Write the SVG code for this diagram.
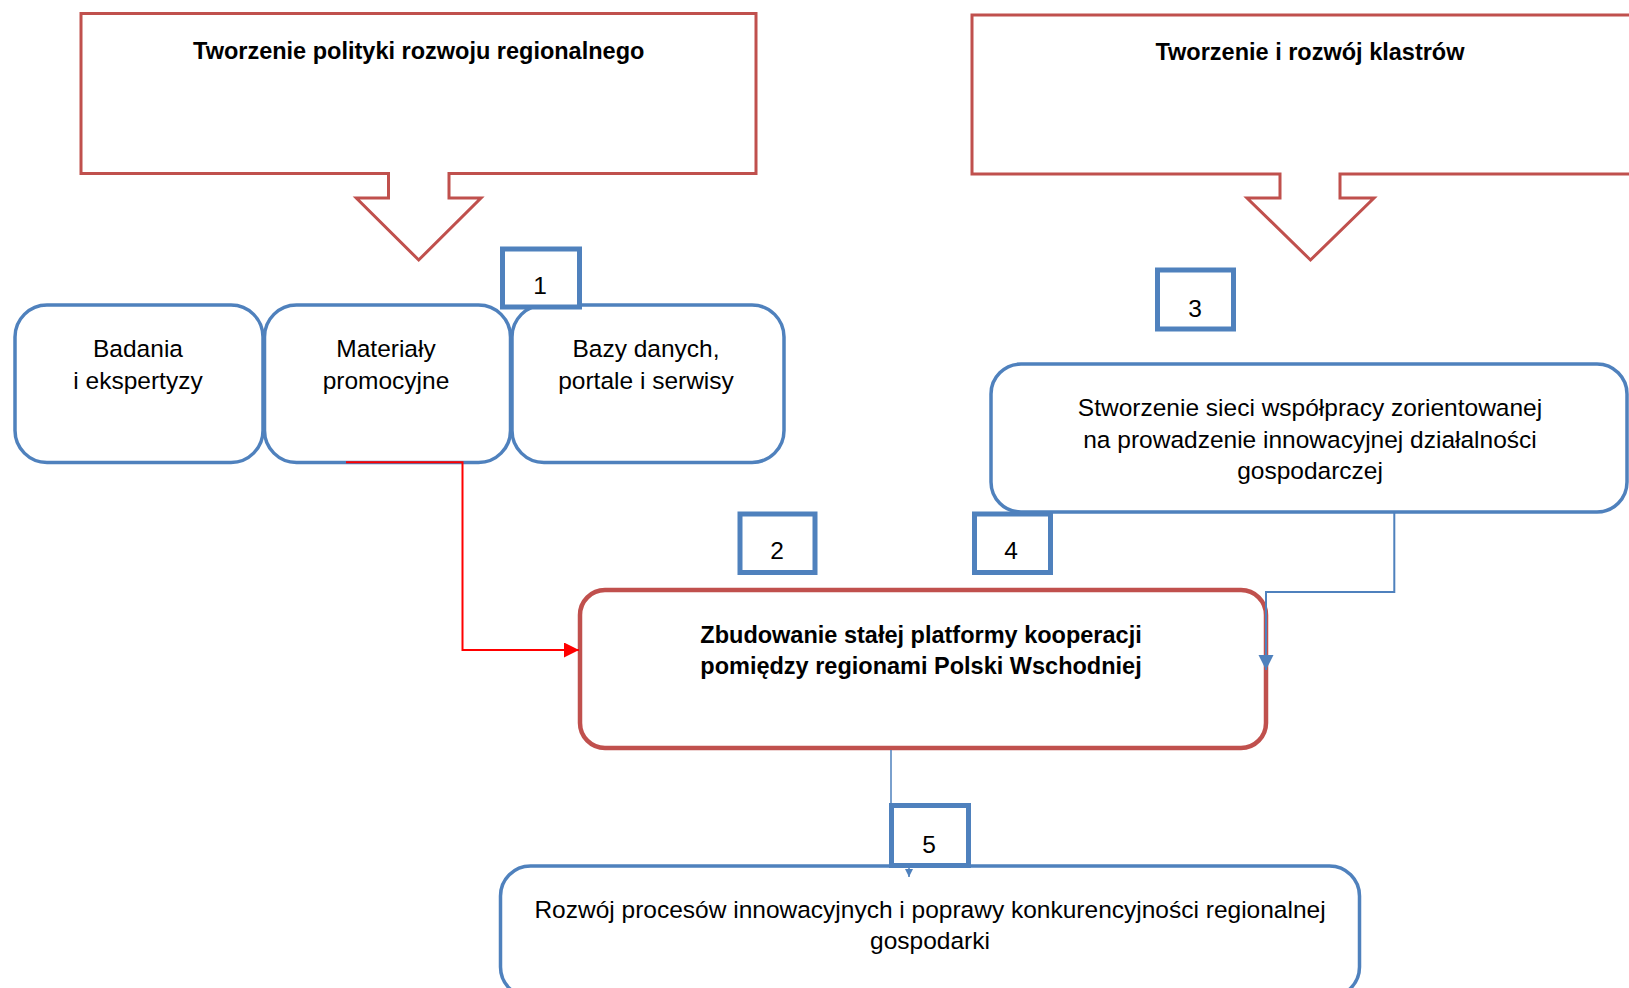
<svg xmlns="http://www.w3.org/2000/svg" width="1629" height="988" viewBox="0 0 1629 988">
<defs>
<style>
.callout{fill:#fff;stroke:#C0504D;stroke-width:3}
.rbox{fill:#fff;stroke:#4F81BD;stroke-width:3.5}
.num{fill:#fff;stroke:#4F81BD;stroke-width:5}
.main{fill:#fff;stroke:#C0504D;stroke-width:4.5}
.t{font-family:"Liberation Sans",Arial,sans-serif;font-size:24.5px;fill:#000;text-anchor:middle}
.b{font-family:"Liberation Sans",Arial,sans-serif;font-size:23.5px;font-weight:bold;fill:#000;text-anchor:middle}
.redc{fill:none;stroke:#FF0000;stroke-width:2}
.bluec{fill:none;stroke:#4F81BD;stroke-width:2}
</style>
<marker id="ar" viewBox="0 0 10 10" refX="10" refY="5" markerUnits="userSpaceOnUse" markerWidth="16" markerHeight="15" orient="auto"><path d="M0,0L10,5L0,10Z" fill="#FF0000"/></marker>
<marker id="ab" viewBox="0 0 10 10" refX="10" refY="5" markerUnits="userSpaceOnUse" markerWidth="15" markerHeight="16" orient="auto"><path d="M0,0L10,5L0,10Z" fill="#4F81BD"/></marker>
<marker id="as" viewBox="0 0 10 10" refX="10" refY="5" markerUnits="userSpaceOnUse" markerWidth="8" markerHeight="9" orient="auto"><path d="M0,0L10,5L0,10Z" fill="#4F81BD"/></marker>
</defs>
<rect width="1629" height="988" fill="#fff"/>

<g id="callout-polityka">
<path class="callout" d="M81,13.5H756V173.5H449V198H481L418.7,260L356.3,198H388.5V173.5H81Z"/>
<text class="b" x="418.7" y="59">Tworzenie polityki rozwoju regionalnego</text>
</g>
<g id="callout-klastry">
<path class="callout" d="M972,15H1645V174H1340V198H1374L1310.5,260L1247,198H1280V174H972Z"/>
<text class="b" x="1310" y="59.5">Tworzenie i rozwój klastrów</text>
</g>

<g id="node-badania">
<rect class="rbox" x="15" y="305" width="248" height="157.5" rx="32"/>
<text class="t" x="138" y="357">Badania</text>
<text class="t" x="138" y="388.5">i ekspertyzy</text>
</g>
<g id="node-materialy">
<rect class="rbox" x="264.5" y="305" width="246" height="157.5" rx="32"/>
<text class="t" x="386" y="357">Materiały</text>
<text class="t" x="386" y="388.5">promocyjne</text>
</g>
<g id="node-bazy">
<rect class="rbox" x="512" y="305" width="272" height="157.5" rx="32"/>
<text class="t" x="646" y="357">Bazy danych,</text>
<text class="t" x="646" y="388.5">portale i serwisy</text>
</g>

<g id="node-siec">
<rect class="rbox" x="991" y="364" width="636" height="148" rx="30"/>
<text class="t" x="1310" y="416">Stworzenie sieci współpracy zorientowanej</text>
<text class="t" x="1310" y="447.5">na prowadzenie innowacyjnej działalności</text>
<text class="t" x="1310" y="479">gospodarczej</text>
</g>

<g id="node-platforma">
<rect class="main" x="580" y="590" width="686" height="158" rx="25"/>
<text class="b" x="921" y="643">Zbudowanie stałej platformy kooperacji</text>
<text class="b" x="921" y="674">pomiędzy regionami Polski Wschodniej</text>
</g>

<g id="node-rozwoj">
<rect class="rbox" x="500.5" y="866" width="859" height="131" rx="30"/>
<text class="t" x="930" y="918">Rozwój procesów innowacyjnych i poprawy konkurencyjności regionalnej</text>
<text class="t" x="930" y="949">gospodarki</text>
</g>

<g id="connectors">
<path class="redc" d="M346,462.3H462.5V650H579" marker-end="url(#ar)"/>
<path class="bluec" d="M1394.3,512V592H1266V670" marker-end="url(#ab)"/>
<path class="bluec" style="stroke-width:1.5" d="M891,750V835H909V877" marker-end="url(#as)"/>
</g>

<g id="num-1">
<rect class="num" x="502.5" y="249" width="77" height="58"/>
<text class="t" x="540" y="294">1</text>
</g>
<g id="num-2">
<rect class="num" x="740" y="514" width="75" height="58.5"/>
<text class="t" x="777" y="559">2</text>
</g>
<g id="num-3">
<rect class="num" x="1157.5" y="270" width="76" height="59"/>
<text class="t" x="1195" y="317">3</text>
</g>
<g id="num-4">
<rect class="num" x="974.5" y="514" width="76" height="58.5"/>
<text class="t" x="1011" y="559">4</text>
</g>
<g id="num-5">
<rect class="num" x="891.5" y="805.5" width="77" height="60"/>
<text class="t" x="929" y="853">5</text>
</g>
</svg>
